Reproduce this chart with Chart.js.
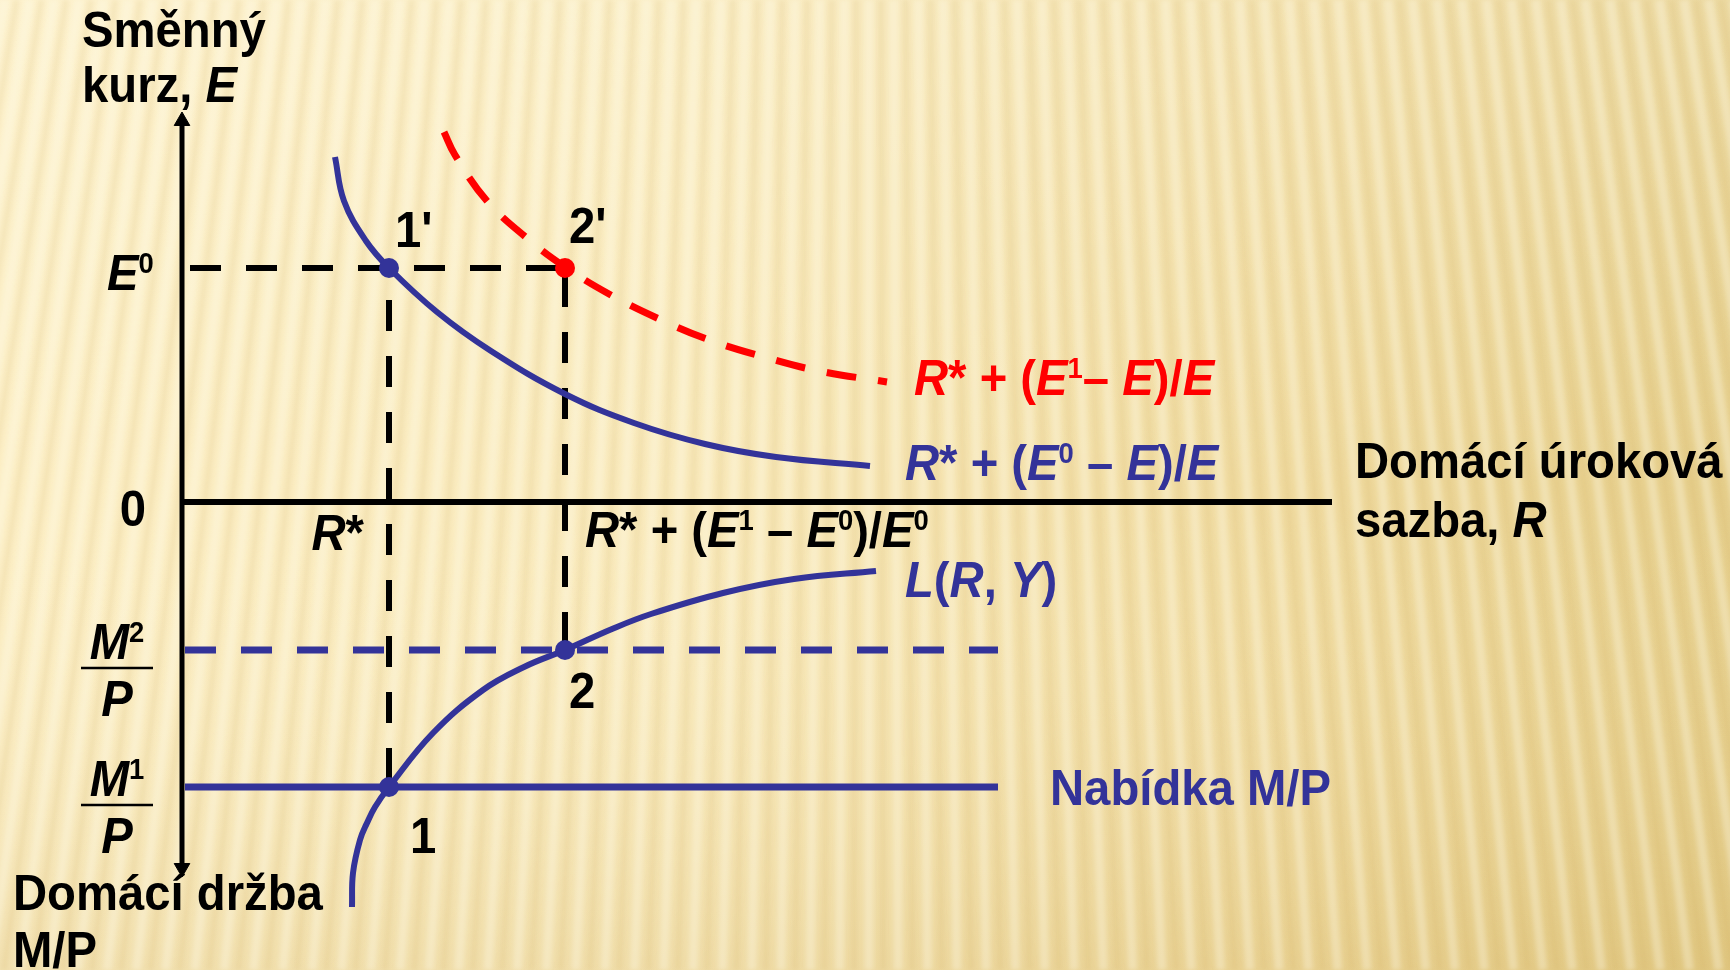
<!DOCTYPE html>
<html>
<head>
<meta charset="utf-8">
<script src="https://cdn.jsdelivr.net/npm/chart.js@4.4.0/dist/chart.umd.min.js"></script>
<style>
html,body{margin:0;padding:0;background:#f8e8b6;overflow:hidden}
canvas{display:block}
</style>
</head>
<body>
<canvas id="c" width="1730" height="970"></canvas>
<script>
// ---------- values (economic units) ----------
const rStar = 2.07;       // R*
const rNew  = 3.83;       // R* + (E1 - E0)/E0
const e0    = 2.34;       // E0
const m1    = 2.85;       // M1/P (money axis, measured downward)
const m2    = 1.48;       // M2/P

// R* + (E0 - E)/E  (blue)
const oldReturnR = [1.53, 1.62, 1.84, 2.07, 2.55, 3.09, 3.83, 4.52, 5.23, 5.94, 6.88];
const oldReturnE = [3.45, 3.01, 2.61, 2.34, 1.90, 1.51, 1.08, 0.79, 0.58, 0.45, 0.36];
// R* + (E1 - E)/E  (red, dashed)
const newReturnR = [2.62, 2.73, 3.05, 3.46, 3.83, 4.27, 4.77, 5.30, 5.82, 6.37, 7.05];
const newReturnE = [3.70, 3.47, 3.01, 2.63, 2.35, 2.08, 1.83, 1.61, 1.45, 1.31, 1.20];
// L(R, Y)  (money demand, lower panel)
const demandR = [1.70, 1.71, 1.78, 1.85, 1.93, 2.07, 2.51, 3.01, 3.42, 3.83, 4.30, 4.69, 5.41, 6.12, 6.94];
const demandM = [4.05, 3.71, 3.38, 3.21, 3.05, 2.85, 2.31, 1.88, 1.65, 1.48, 1.27, 1.12, 0.91, 0.77, 0.69];

// axis extents
const axisREnd = 11.50;
const axisETop = 3.81;
const axisMBottom = 3.66;
const guideRStart = 0.06;
const supplyREnd = 8.16;

// ---------- helpers ----------
const BLUE = '#333399', RED = '#ff0000', BLACK = '#000000';
const pts = (xs, ys) => xs.map((x, i) => ({x, y: ys[i]}));

const SIZE = 50, SX = 0.945;
function parseRich(s) {
  const parts = []; let it = false, sup = false, buf = '';
  for (const ch of s) {
    if (ch === '_' || ch === '^') {
      if (buf) parts.push({t: buf, i: it, s: sup});
      buf = '';
      if (ch === '_') it = !it; else sup = !sup;
    } else buf += ch;
  }
  if (buf) parts.push({t: buf, i: it, s: sup});
  return parts;
}
function fontFor(p) {
  const sz = p.s ? Math.round(SIZE * 0.58) : SIZE;
  return (p.i ? 'italic ' : '') + 'bold ' + sz + 'px "Liberation Sans", Arial, sans-serif';
}
function drawRich(ctx, str, x, y, color, align) {
  const parts = parseRich(str);
  const widths = parts.map(p => { ctx.font = fontFor(p); return ctx.measureText(p.t).width * SX; });
  const total = widths.reduce((a, b) => a + b, 0);
  let cx = align === 'center' ? x - total / 2 : align === 'right' ? x - total : x;
  ctx.fillStyle = color;
  ctx.textBaseline = 'alphabetic';
  ctx.textAlign = 'left';
  parts.forEach((p, i) => {
    ctx.font = fontFor(p);
    ctx.save();
    ctx.translate(cx, y - (p.s ? SIZE * 0.34 : 0));
    ctx.scale(SX, 1);
    ctx.fillText(p.t, 0, 0);
    ctx.restore();
    cx += widths[i];
  });
}

// ---------- plugins ----------
const backgroundPlugin = {
  id: 'slideBackground',
  beforeDraw(chart) {
    const {ctx, width: w, height: h} = chart;
    ctx.save();
    const g = ctx.createLinearGradient(0, 0, w, 0);
    g.addColorStop(0, '#fcefc6');
    g.addColorStop(0.4, '#f9eabc');
    g.addColorStop(0.75, '#f0dba0');
    g.addColorStop(1, '#e6cf8c');
    ctx.fillStyle = g;
    ctx.fillRect(0, 0, w, h);
    const v = ctx.createLinearGradient(0, 0, 0, h);
    v.addColorStop(0, 'rgba(255,250,228,0.25)');
    v.addColorStop(0.5, 'rgba(255,250,228,0)');
    v.addColorStop(1, 'rgba(190,150,60,0.16)');
    ctx.fillStyle = v;
    ctx.fillRect(0, 0, w, h);
    // fan of soft stripes
    const fx = 870, fy = -5200, mid = h / 2;
    ctx.filter = 'blur(2px)';
    for (let x = -400; x < w + 400; x += 27) {
      for (const [off, col, lw] of [[0, 'rgba(255,252,236,0.32)', 9], [13, 'rgba(195,160,75,0.12)', 6]]) {
        const dx = x + off - fx, dy = mid - fy;
        const x0 = fx + dx * (0 - fy) / dy, x1 = fx + dx * (h - fy) / dy;
        ctx.strokeStyle = col; ctx.lineWidth = lw;
        ctx.beginPath(); ctx.moveTo(x0, 0); ctx.lineTo(x1, h); ctx.stroke();
      }
    }
    ctx.filter = 'none';
    ctx.restore();
  }
};

const labelPlugin = {
  id: 'diagramLabels',
  afterDatasetsDraw(chart) {
    const {ctx} = chart;
    const xs = chart.scales.x, ye = chart.scales.y, ym = chart.scales.yM;
    const X = v => xs.getPixelForValue(v), YE = v => ye.getPixelForValue(v), YM = v => ym.getPixelForValue(v);
    const ax = X(0), ay = YE(0);
    ctx.save();
    // axis titles
    drawRich(ctx, 'Směnný', ax - 100, 47, BLACK);
    drawRich(ctx, 'kurz, _E_', ax - 100, 102, BLACK);
    drawRich(ctx, 'Domácí úroková', X(axisREnd) + 23, ay - 24, BLACK);
    drawRich(ctx, 'sazba, _R_', X(axisREnd) + 23, ay + 35, BLACK);
    drawRich(ctx, 'Domácí držba', 13, 910, BLACK);
    drawRich(ctx, 'M/P', 13, 967, BLACK);
    // axis tick-like labels
    drawRich(ctx, '0', ax - 36, ay + 24, BLACK, 'right');
    drawRich(ctx, '_E_^0^', ax - 75, YE(e0) + 22, BLACK);
    drawRich(ctx, '_R_*', X(rStar) - 25, ay + 48, BLACK, 'right');
    drawRich(ctx, '_R_* + (_E_^1^ – _E_^0^)/_E_^0^', X(rNew) + 20, ay + 45, BLACK);
    // fractions M/P
    for (const m of [m2, m1]) {
      const cy = YM(m), cx = ax - 65;
      drawRich(ctx, '_M_^' + (m === m2 ? '2' : '1') + '^', cx, cy + 9, BLACK, 'center');
      ctx.strokeStyle = BLACK; ctx.lineWidth = 2.5;
      ctx.beginPath(); ctx.moveTo(cx - 36, cy + 18); ctx.lineTo(cx + 36, cy + 18); ctx.stroke();
      drawRich(ctx, '_P_', cx, cy + 66, BLACK, 'center');
    }
    // point labels
    drawRich(ctx, "1'", X(rStar) + 6, YE(e0) - 21, BLACK);
    drawRich(ctx, "2'", X(rNew) + 4, YE(e0) - 25, BLACK);
    drawRich(ctx, '1', X(rStar) + 21, YM(m1) + 66, BLACK);
    drawRich(ctx, '2', X(rNew) + 4, YM(m2) + 58, BLACK);
    // curve labels
    drawRich(ctx, '_R_* + (_E_^1^– _E_)/_E_', 914, 395, RED);
    drawRich(ctx, '_R_* + (_E_^0^ – _E_)/_E_', 905, 480, BLUE);
    drawRich(ctx, '_L_(_R_, _Y_)', 905, 597, BLUE);
    drawRich(ctx, 'Nabídka M/P', 1050, YM(m1) + 18, BLUE);
    ctx.restore();
  }
};

// ---------- datasets ----------
const lineBase = {showLine: true, pointRadius: 0, pointHoverRadius: 0, fill: false};
const datasets = [
  // equilibrium points (drawn on top)
  {data: [{x: rStar, y: e0}], pointRadius: 10, pointBackgroundColor: BLUE, pointBorderWidth: 0, showLine: false, order: 0},
  {data: [{x: rNew, y: e0}], pointRadius: 10, pointBackgroundColor: RED, pointBorderWidth: 0, showLine: false, order: 0},
  {data: [{x: rStar, y: m1}], yAxisID: 'yM', pointRadius: 10, pointBackgroundColor: BLUE, pointBorderWidth: 0, showLine: false, order: 0},
  {data: [{x: rNew, y: m2}], yAxisID: 'yM', pointRadius: 10, pointBackgroundColor: BLUE, pointBorderWidth: 0, showLine: false, order: 0},
  // curves
  {...lineBase, data: pts(oldReturnR, oldReturnE), borderColor: BLUE, borderWidth: 6, tension: 0.4, order: 1},
  {...lineBase, data: pts(newReturnR, newReturnE), borderColor: RED, borderWidth: 7, borderDash: [30, 22], tension: 0.4, order: 1},
  {...lineBase, data: pts(demandR, demandM), yAxisID: 'yM', borderColor: BLUE, borderWidth: 6, tension: 0.4, order: 1},
  // guide lines
  {...lineBase, data: [{x: guideRStart + 0.02, y: e0}, {x: rNew, y: e0}], borderColor: BLACK, borderWidth: 6, borderDash: [31, 25], order: 2},
  {...lineBase, data: [{x: rStar, y: e0}, {x: rStar, y: -m1}], borderColor: BLACK, borderWidth: 6, borderDash: [31, 25], borderDashOffset: 24, order: 2},
  {...lineBase, data: [{x: rNew, y: e0}, {x: rNew, y: -m2}], borderColor: BLACK, borderWidth: 6, borderDash: [31, 25], borderDashOffset: 48, order: 2},
  {...lineBase, data: [{x: guideRStart - 0.03, y: m2}, {x: supplyREnd, y: m2}], yAxisID: 'yM', borderColor: BLUE, borderWidth: 7, borderDash: [31, 25], order: 2},
  {...lineBase, data: [{x: guideRStart - 0.03, y: m1}, {x: supplyREnd, y: m1}], yAxisID: 'yM', borderColor: BLUE, borderWidth: 7, order: 2},
  // axes
  {...lineBase, data: [{x: 0, y: 0}, {x: axisREnd, y: 0}], borderColor: BLACK, borderWidth: 6, order: 3},
  {showLine: true, fill: false, data: [{x: 0, y: axisETop}, {x: 0, y: -axisMBottom}], borderColor: BLACK, borderWidth: 5,
   pointStyle: 'triangle', pointRadius: 9, pointHoverRadius: 9, pointRotation: [0, 180],
   pointBackgroundColor: BLACK, pointBorderColor: BLACK, pointBorderWidth: 1, order: 3}
];

new Chart(document.getElementById('c'), {
  type: 'scatter',
  data: {datasets},
  options: {
    responsive: false,
    animation: false,
    events: [],
    layout: {padding: 0, autoPadding: false},
    plugins: {legend: {display: false}, tooltip: {enabled: false}, title: {display: false}},
    scales: {
      x:  {type: 'linear', min: -1.82, max: 15.48, display: false},
      y:  {type: 'linear', min: -4.68, max: 5.02, display: false},
      yM: {type: 'linear', min: -5.02, max: 4.68, reverse: true, display: false}
    },
    elements: {line: {borderCapStyle: 'butt'}}
  },
  plugins: [backgroundPlugin, labelPlugin]
});
</script>
</body>
</html>
